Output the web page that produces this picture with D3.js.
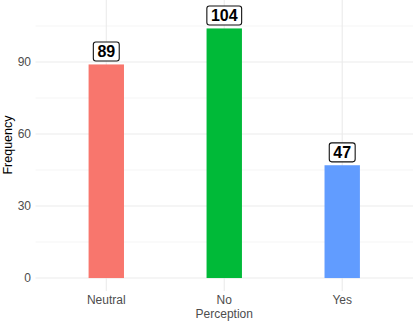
<!DOCTYPE html>
<html>
<head>
<meta charset="utf-8">
<script src="https://cdn.jsdelivr.net/npm/d3@7"></script>
<style>
  html, body { margin: 0; padding: 0; background: #fff; }
  svg { display: block; font-family: "Liberation Sans", Arial, Helvetica, sans-serif; }
</style>
</head>
<body>
<svg id="chart" width="415" height="321"></svg>
<script>
// Responses and their counts
const categories = ["Neutral", "No Perception", "Yes"];
const categoryLines = [["Neutral"], ["No", "Perception"], ["Yes"]];
const counts = [89, 104, 47];
const barColors = ["#F8766D", "#00BA38", "#619CFF"];
const majorTicks = [0, 30, 60, 90];
const minorTicks = [15, 45, 75, 105];

const panel = { left: 35.5, right: 413, top: 0, bottom: 291 };

const svg = d3.select("#chart");

// discrete axis: categories one step apart with 0.6 step of margin each side
const x = d3.scalePoint()
  .domain(categories)
  .range([panel.left, panel.right])
  .padding(0.6);
const barW = x.step() * 0.3;

const y = d3.scaleLinear()
  .domain([-5.4, 115.85])
  .range([panel.bottom, panel.top]);

const grid = svg.append("g");

// minor horizontal gridlines
grid.selectAll("line.minor")
  .data(minorTicks)
  .join("line")
  .attr("class", "minor")
  .attr("x1", panel.left).attr("x2", panel.right)
  .attr("y1", d => y(d)).attr("y2", d => y(d))
  .attr("stroke", "#f3f3f3").attr("stroke-width", 0.8);

// major horizontal gridlines
grid.selectAll("line.major")
  .data(majorTicks)
  .join("line")
  .attr("class", "major")
  .attr("x1", panel.left).attr("x2", panel.right)
  .attr("y1", d => y(d)).attr("y2", d => y(d))
  .attr("stroke", "#ebebeb").attr("stroke-width", 1.1);

// vertical gridlines at each category
grid.selectAll("line.vx")
  .data(categories)
  .join("line")
  .attr("class", "vx")
  .attr("x1", d => x(d)).attr("x2", d => x(d))
  .attr("y1", panel.top).attr("y2", panel.bottom)
  .attr("stroke", "#ebebeb").attr("stroke-width", 1.1);

// bars
svg.append("g").selectAll("rect")
  .data(categories)
  .join("rect")
  .attr("x", d => x(d) - barW / 2)
  .attr("width", barW)
  .attr("y", (d, i) => y(counts[i]))
  .attr("height", (d, i) => y(0) - y(counts[i]))
  .attr("fill", (d, i) => barColors[i]);

// value labels in rounded boxes
const labels = svg.append("g");
categories.forEach((c, i) => {
  const g = labels.append("g");
  const boxH = 19, padX = 4;
  const boxBottom = y(counts[i]) - 3.4;
  const t = g.append("text")
    .attr("x", x(c))
    .attr("y", boxBottom - 4)
    .attr("text-anchor", "middle")
    .attr("font-size", 16)
    .attr("font-weight", "bold")
    .attr("fill", "#000")
    .text(counts[i]);
  const bb = t.node().getBBox();
  g.insert("rect", "text")
    .attr("x", x(c) - bb.width / 2 - padX)
    .attr("y", boxBottom - boxH)
    .attr("width", bb.width + 2 * padX)
    .attr("height", boxH)
    .attr("rx", 2.5)
    .attr("fill", "#fff")
    .attr("stroke", "#111")
    .attr("stroke-width", 1.1);
});

// y tick labels
svg.append("g").selectAll("text")
  .data(majorTicks)
  .join("text")
  .attr("x", 31)
  .attr("y", d => y(d))
  .attr("dy", "0.36em")
  .attr("text-anchor", "end")
  .attr("font-size", 12)
  .attr("fill", "#4d4d4d")
  .text(d => d);

// x tick labels
const xl = svg.append("g");
categories.forEach((c, i) => {
  const t = xl.append("text")
    .attr("x", x(c))
    .attr("y", 304)
    .attr("text-anchor", "middle")
    .attr("font-size", 12)
    .attr("fill", "#4d4d4d");
  categoryLines[i].forEach((line, j) => {
    t.append("tspan").attr("x", x(c)).attr("dy", j === 0 ? 0 : 13.5).text(line);
  });
});

// y axis title
svg.append("text")
  .attr("transform", `translate(12,145) rotate(-90)`)
  .attr("text-anchor", "middle")
  .attr("font-size", 12.5)
  .attr("fill", "#000")
  .text("Frequency");
</script>
</body>
</html>
